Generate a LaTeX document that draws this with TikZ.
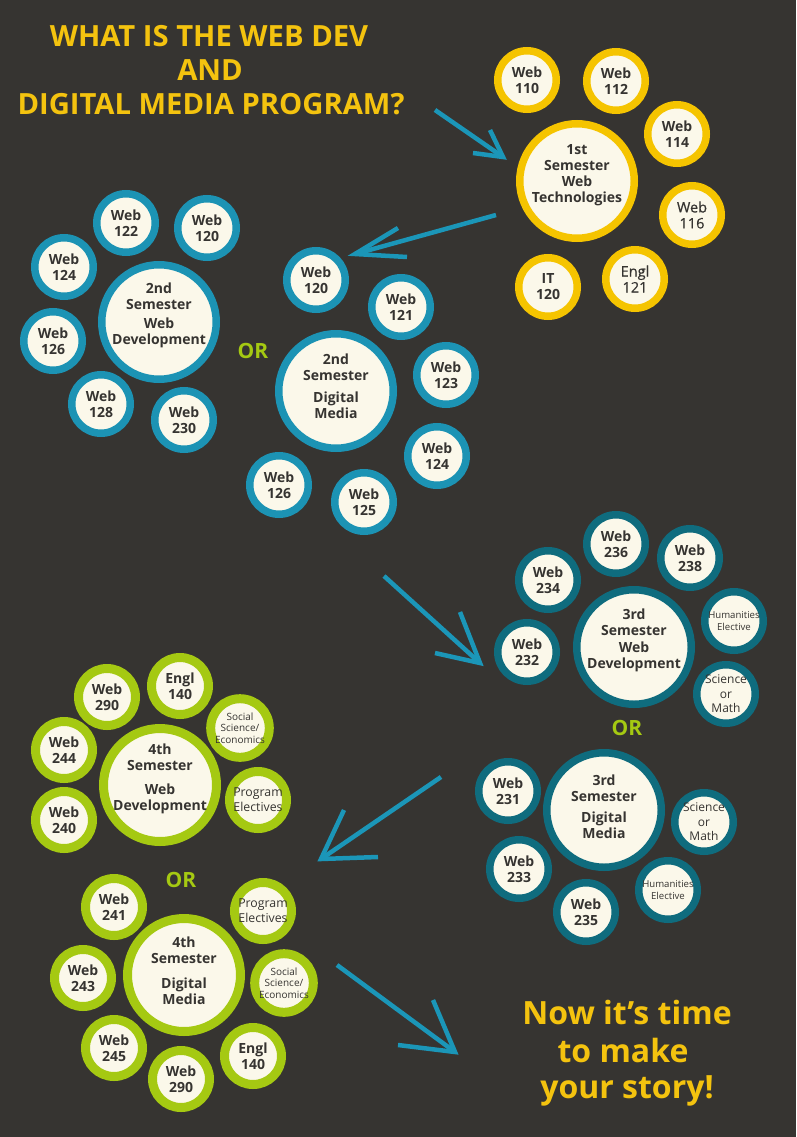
\documentclass[tikz,border=0pt]{standalone}
\usepackage{fontspec}
\setmainfont{Open Sans}
\newfontfamily\halfbold[FakeBold=0.5]{Open Sans}
\definecolor{bg}{HTML}{363431}
\definecolor{yel}{HTML}{F5C400}
\definecolor{titleyel}{HTML}{F4C30F}
\definecolor{blue}{HTML}{1C93B4}
\definecolor{teal}{HTML}{0F6C7E}
\definecolor{green}{HTML}{A5C912}
\definecolor{cream}{HTML}{FBF8EA}
\definecolor{ink}{HTML}{363431}
\definecolor{arrowc}{HTML}{1B96B8}
\tikzset{
  ring/.style={circle, fill=cream, inner sep=0pt, align=center, text=ink,
    font=\bfseries\fontsize{14}{16}\selectfont},
  small/.style={ring, draw=#1, line width=7.5pt, minimum size=58.5pt},
  big/.style={ring, draw=#1, line width=7.5pt, minimum size=114.5pt},
  gsmall/.style={ring, draw=green, line width=9pt, minimum size=57pt},
  gbig/.style={ring, draw=green, line width=9pt, minimum size=113pt},
  bigtext/.style={align=center, text=ink, inner sep=0pt,
    font=\bfseries\fontsize{14}{16}\selectfont},
  plain/.style={font=\halfbold\fontsize{14.5}{16}\selectfont},
  hum/.style={font=\fontsize{9.6}{12}\selectfont},
  sci/.style={font=\fontsize{12}{14.5}\selectfont},
  prog/.style={font=\fontsize{12.3}{15}\selectfont},
  soc/.style={font=\fontsize{10}{11.7}\selectfont},
  ortext/.style={text=green, font=\bfseries\fontsize{21}{21}\selectfont},
  headline/.style={text=titleyel, anchor=base, font=\bfseries\fontsize{29.2}{33}\selectfont},
  closing/.style={text=titleyel, anchor=base, font=\bfseries\fontsize{32}{36}\selectfont},
  flow/.style={draw=arrowc, line width=4.5pt, line join=miter},
}
\begin{document}
\begin{tikzpicture}[x=1pt,y=-1pt]
% page
\useasboundingbox (0,0) rectangle (796,1137);
\fill[bg] (0,0) rectangle (796,1137);

% heading
\node[headline] (t1) at (209,47) {WHAT IS THE WEB DEV};
\node[headline] (t2) at (210,81) {AND};
\node[headline] (t3) at (211,114) {DIGITAL MEDIA PROGRAM?};

% 1st semester
\node[big=yel] (s1) at (577,181) {};
\node[bigtext] (s1t) at (577,175) {1st\\Semester\\Web\\Technologies};
\node[small=yel] (s1a) at (527,80) {Web\\110};
\node[small=yel] (s1b) at (616,81) {Web\\112};
\node[small=yel] (s1c) at (677,134) {Web\\114};
\node[small=yel, plain] (s1d) at (692,215) {Web\\116};
\node[small=yel, plain] (s1e) at (635,279) {Engl\\121};
\node[small=yel] (s1f) at (548,287) {IT\\120};

% 2nd semester, web development
\node[big=blue] (s2w) at (159,322) {};
\node[bigtext] (s2wt) at (159,315) {2nd\\Semester\\[3pt]Web\\Development};
\node[small=blue] (s2wa) at (126,223) {Web\\122};
\node[small=blue] (s2wb) at (207,228) {Web\\120};
\node[small=blue] (s2wc) at (64,267) {Web\\124};
\node[small=blue] (s2wd) at (53,341) {Web\\126};
\node[small=blue] (s2we) at (101,404) {Web\\128};
\node[small=blue] (s2wf) at (184,420) {Web\\230};

\node[ortext] (or2) at (253,351) {OR};

% 2nd semester, digital media
\node[big=blue] (s2d) at (336,391) {};
\node[bigtext] (s2dt) at (336,386) {2nd\\Semester\\[6pt]Digital\\Media};
\node[small=blue] (s2da) at (316,280) {Web\\120};
\node[small=blue] (s2db) at (401,307) {Web\\121};
\node[small=blue] (s2dc) at (446,375) {Web\\123};
\node[small=blue] (s2dd) at (437,456) {Web\\124};
\node[small=blue] (s2de) at (364,502) {Web\\125};
\node[small=blue] (s2df) at (279,485) {Web\\126};

% 3rd semester, web development
\node[big=teal] (s3w) at (634,647) {};
\node[bigtext] (s3wt) at (634,640) {3rd\\Semester\\[1pt]Web\\Development};
\node[small=teal] (s3wa) at (527,652) {Web\\232};
\node[small=teal] (s3wb) at (548,580) {Web\\234};
\node[small=teal] (s3wc) at (616,544) {Web\\236};
\node[small=teal] (s3wd) at (690,558) {Web\\238};
\node[small=teal, hum] (s3we) at (734,621) {Humanities\\Elective};
\node[small=teal, sci] (s3wf) at (726,694) {Science\\or\\Math};

\node[ortext] (or3) at (627,728) {OR};

% 3rd semester, digital media
\node[big=teal] (s3d) at (604,810) {};
\node[bigtext] (s3dt) at (604,807) {3rd\\Semester\\[5pt]Digital\\Media};
\node[small=teal] (s3da) at (508,791) {Web\\231};
\node[small=teal] (s3db) at (519,869) {Web\\233};
\node[small=teal] (s3dc) at (586,912) {Web\\235};
\node[small=teal, hum] (s3dd) at (668,890) {Humanities\\Elective};
\node[small=teal, sci] (s3de) at (704,822) {Science\\or\\Math};

% 4th semester, web development
\node[gbig] (s4w) at (160,785) {};
\node[bigtext] (s4wt) at (160,779) {4th\\Semester\\[8pt]Web\\Development};
\node[gsmall] (s4wa) at (107,697) {Web\\290};
\node[gsmall] (s4wb) at (180,686) {Engl\\140};
\node[gsmall, soc] (s4wc) at (240,728) {Social\\Science/\\Economics};
\node[gsmall, prog] (s4wd) at (258,800) {Program\\Electives};
\node[gsmall] (s4we) at (64,750) {Web\\244};
\node[gsmall] (s4wf) at (64,820) {Web\\240};

\node[ortext] (or4) at (181,880) {OR};

% 4th semester, digital media
\node[gbig] (s4d) at (184,975) {};
\node[bigtext] (s4dt) at (184,971) {4th\\Semester\\[9pt]Digital\\Media};
\node[gsmall] (s4da) at (114,907) {Web\\241};
\node[gsmall, prog] (s4db) at (263,911) {Program\\Electives};
\node[gsmall, soc] (s4dc) at (284,983) {Social\\Science/\\Economics};
\node[gsmall] (s4dd) at (253,1056) {Engl\\140};
\node[gsmall] (s4de) at (181,1079) {Web\\290};
\node[gsmall] (s4df) at (114,1048) {Web\\245};
\node[gsmall] (s4dg) at (83,978) {Web\\243};

% closing line
\node[closing] (c1) at (627,1024) {Now it’s time};
\node[closing] (c2) at (623,1062) {to make};
\node[closing] (c3) at (627,1098) {your story!};

% arrows between the semesters
\coordinate (a1t) at (435,110); \coordinate (a1h) at (503,157);
\coordinate (a1l) at (490,130); \coordinate (a1r) at (473,153);
\coordinate (a2t) at (496,215); \coordinate (a2h) at (355,254);
\coordinate (a2l) at (398,228); \coordinate (a2r) at (407,257);
\coordinate (a3t) at (384,576); \coordinate (a3h) at (480,663);
\coordinate (a3l) at (460,612); \coordinate (a3r) at (435,653);
\coordinate (a4t) at (441,777); \coordinate (a4h) at (321,859);
\coordinate (a4l) at (344,810); \coordinate (a4r) at (378,857);
\coordinate (a5t) at (337,965); \coordinate (a5h) at (455,1052);
\coordinate (a5l) at (433,1000); \coordinate (a5r) at (398,1045);
\foreach \a in {a1,a2,a3,a4,a5}{
  \draw[flow] (\a t) -- (\a h);
  \draw[flow] (\a l) -- (\a h) -- (\a r);
}
\end{tikzpicture}
\end{document}
